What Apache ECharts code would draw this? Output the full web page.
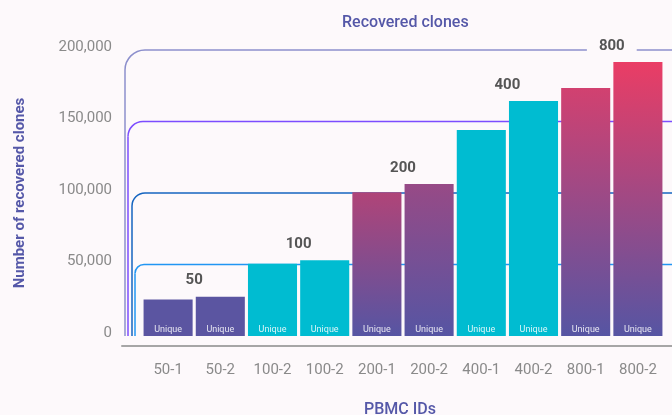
<!DOCTYPE html>
<html>
<head>
<meta charset="utf-8">
<script src="https://cdn.jsdelivr.net/npm/echarts@6/dist/echarts.min.js"></script>
<style>
  html, body { margin: 0; padding: 0; background: #fdf9fb; }
  #chart { width: 672px; height: 415px; }
</style>
</head>
<body>
<div id="chart"></div>
<script>
// data
const categories = ["50-1", "50-2", "100-2", "100-2", "200-1", "200-2", "400-1", "400-2", "800-1", "800-2"];
const recovered = [25500, 27500, 50500, 53000, 100500, 106300, 144000, 164300, 173400, 191600];
const barLabel = "Unique";
const groupNames = ["50", "100", "200", "400", "800"];
const thresholds = [50000, 100000, 150000, 200000];
const yMin = 0;
const yMax = 200000;
const yStep = 50000;

// styling
const bg = "#fdf9fb";
const accent = "#5558a8";
const barTop = ["#5b55a1", "#5b55a1", "#00bcd1", "#00bcd1", "#b04478", "#974a86", "#00bcd1", "#00bcd1", "#d24170", "#ea3d65"];
const barBottom = ["#5b55a1", "#5b55a1", "#00bcd1", "#00bcd1", "#5655a3", "#5655a3", "#00bcd1", "#00bcd1", "#5655a3", "#5655a3"];
const bracketStyle = [
  { inset: 7, r: 9, color: "#2196f3" },
  { inset: 10, r: 13, color: "#1565c0" },
  { inset: 14, r: 15, color: "#7c4dff" },
  { inset: 17, r: 20, color: "#8c8fcc" }
];

const barData = recovered.map((v, i) => ({
  value: v,
  itemStyle: {
    color: new echarts.graphic.LinearGradient(0, 0, 0, 1, [
      { offset: 0, color: barTop[i] },
      { offset: 1, color: barBottom[i] }
    ])
  }
}));

const groupData = groupNames.map((g, k) => [2 * k, 2 * k + 1, Math.max(recovered[2 * k], recovered[2 * k + 1])]);

function renderBracket(params, api) {
  const s = bracketStyle[params.dataIndex];
  const top = api.coord([0, api.value(1)])[1];
  const base = api.coord([0, 0])[1];
  const left = params.coordSys.x - s.inset;
  const right = api.getWidth();
  const r = s.r;
  const style = { stroke: s.color, fill: null, lineWidth: 1.5 };
  return {
    type: "group",
    children: [
      { type: "line", shape: { x1: left, y1: base, x2: left, y2: top + r }, style },
      { type: "arc", shape: { cx: left + r, cy: top + r, r, startAngle: Math.PI, endAngle: Math.PI * 1.5, clockwise: true }, style },
      { type: "line", shape: { x1: left + r, y1: top, x2: right, y2: top }, style }
    ]
  };
}

function renderGroupLabel(params, api) {
  const i = api.value(0);
  const j = api.value(1);
  const x = (api.coord([i, 0])[0] + api.coord([j, 0])[0]) / 2;
  const y = api.coord([i, api.value(2)])[1] - 16;
  return {
    type: "text",
    style: {
      text: groupNames[params.dataIndex],
      x, y,
      align: "center",
      verticalAlign: "middle",
      fill: "#555",
      font: "bold 15px Roboto",
      backgroundColor: bg,
      padding: [3, 12]
    }
  };
}

const chart = echarts.init(document.getElementById("chart"));
chart.setOption({
  animation: false,
  backgroundColor: bg,
  textStyle: { fontFamily: "Roboto" },
  title: {
    text: "Recovered clones",
    left: 337,
    top: 10,
    textStyle: { color: accent, fontSize: 16, fontWeight: 500, fontFamily: "Roboto" }
  },
  grid: [
    { left: 142, right: 8, top: 50, bottom: 79, outerBoundsMode: "none" },
    { left: 122, right: 0, top: 50, bottom: 69, outerBoundsMode: "none" }
  ],
  xAxis: [
    {
      type: "category",
      data: categories,
      axisLine: { show: false },
      axisTick: { show: false },
      axisLabel: { color: "#8a8a8a", fontSize: 15, margin: 27 },
      name: "PBMC IDs",
      nameLocation: "middle",
      nameGap: 66,
      nameTextStyle: { color: accent, fontSize: 16, fontWeight: 500, padding: [0, 6, 0, 0] }
    },
    {
      type: "value",
      gridIndex: 1,
      axisLine: { show: true, lineStyle: { color: "#a6a6a6", width: 2 } },
      axisTick: { show: false },
      axisLabel: { show: false },
      splitLine: { show: false }
    }
  ],
  yAxis: [
    {
      type: "value",
      min: yMin,
      max: yMax,
      interval: yStep,
      axisLine: { show: false },
      axisTick: { show: false },
      splitLine: { show: false },
      axisLabel: {
        color: "#8a8a8a",
        fontSize: 15,
        margin: 30,
        verticalAlign: "bottom",
        lineHeight: 6,
        formatter: v => v.toLocaleString("en-US")
      },
      name: "Number of recovered clones",
      nameLocation: "middle",
      nameGap: 114,
      nameTextStyle: { color: accent, fontSize: 15, fontWeight: "bold" }
    },
    { type: "value", gridIndex: 1, show: false }
  ],
  series: [
    {
      type: "custom",
      renderItem: renderBracket,
      data: thresholds.map(t => [0, t]),
      encode: { x: 0, y: 1 },
      clip: false,
      silent: true,
      z: 1
    },
    {
      type: "bar",
      data: barData,
      barCategoryGap: "6%",
      z: 2,
      label: {
        show: true,
        position: "insideBottom",
        distance: 2,
        formatter: barLabel,
        color: "rgba(255,255,255,0.85)",
        fontSize: 9
      }
    },
    {
      type: "custom",
      renderItem: renderGroupLabel,
      data: groupData,
      encode: { x: 0, y: 2 },
      clip: false,
      silent: true,
      z: 3
    }
  ]
});
</script>
</body>
</html>
